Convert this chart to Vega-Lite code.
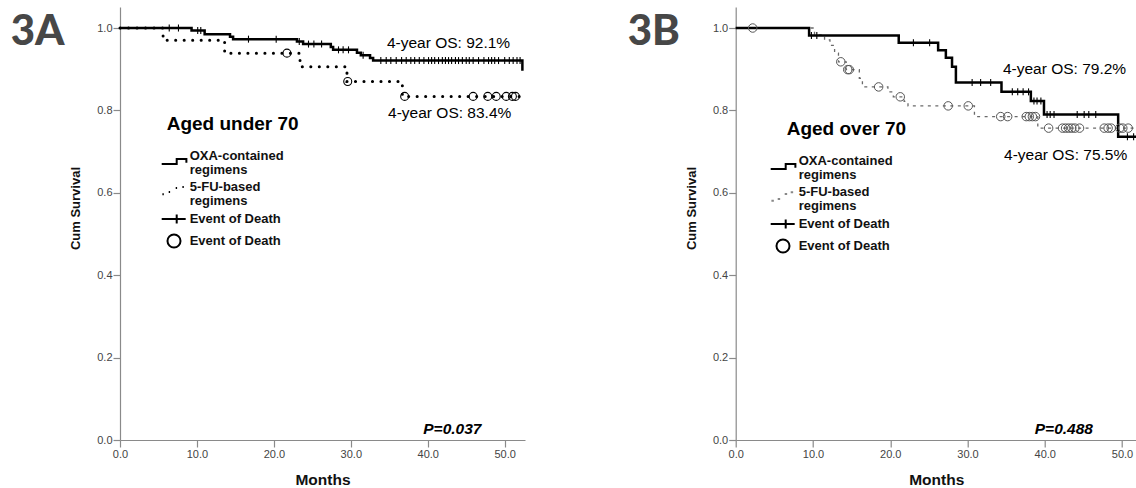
{
  "$schema": "https://vega.github.io/schema/vega-lite/v6.json",
  "background": "white",
  "padding": {"left": 10, "top": 7, "right": 0, "bottom": 0},
  "autosize": {"type": "pad"},
  "bounds": "flush",
  "spacing": 210.7,
  "config": {
    "view": {"stroke": null},
    "font": "Liberation Sans",
    "axis": {
      "domainColor": "#8a8a8a", "domainWidth": 1.2, "tickColor": "#8a8a8a", "tickSize": 7, "tickWidth": 1.2,
      "labelFont": "Liberation Sans", "labelFontSize": 11, "labelColor": "#444", "labelPadding": 1, "labelFlush": false,
      "titleFont": "Liberation Sans", "titleFontWeight": "bold", "titleColor": "#111", "grid": false
    },
    "style": {"guide-label": {"lineHeight": 14}}
  },
  "datasets": {
    "a_oxa": [
      {"month": 0, "surv": 1.0}, {"month": 9.3, "surv": 0.994}, {"month": 11.0, "surv": 0.985}, {"month": 14.3, "surv": 0.979},
      {"month": 14.7, "surv": 0.973}, {"month": 23.0, "surv": 0.967}, {"month": 23.8, "surv": 0.961}, {"month": 27.4, "surv": 0.954},
      {"month": 27.7, "surv": 0.947}, {"month": 30.8, "surv": 0.940}, {"month": 31.3, "surv": 0.934}, {"month": 32.5, "surv": 0.927},
      {"month": 32.9, "surv": 0.921}, {"month": 52.3, "surv": 0.896}
    ],
    "a_fu": [
      {"month": 0, "surv": 1.0}, {"month": 5.6, "surv": 0.970}, {"month": 13.6, "surv": 0.939}, {"month": 23.4, "surv": 0.906},
      {"month": 29.5, "surv": 0.870}, {"month": 36.7, "surv": 0.834}, {"month": 52.5, "surv": 0.834}
    ],
    "a_cens_oxa": [
      {"month": 6.4, "surv": 1.0}, {"month": 7.6, "surv": 1.0}, {"month": 10.1, "surv": 0.994}, {"month": 10.5, "surv": 0.994},
      {"month": 16.7, "surv": 0.973}, {"month": 20.3, "surv": 0.973}, {"month": 23.3, "surv": 0.967}, {"month": 24.5, "surv": 0.961},
      {"month": 25.2, "surv": 0.961}, {"month": 26.2, "surv": 0.961}, {"month": 28.4, "surv": 0.947}, {"month": 29.0, "surv": 0.947},
      {"month": 29.7, "surv": 0.947}, {"month": 31.6, "surv": 0.934},
      {"month": 33.9, "surv": 0.921}, {"month": 34.6, "surv": 0.921}, {"month": 35.2, "surv": 0.921}, {"month": 35.9, "surv": 0.921},
      {"month": 36.6, "surv": 0.921}, {"month": 37.2, "surv": 0.921}, {"month": 37.8, "surv": 0.921}, {"month": 38.3, "surv": 0.921},
      {"month": 38.9, "surv": 0.921}, {"month": 39.5, "surv": 0.921}, {"month": 40.1, "surv": 0.921}, {"month": 40.5, "surv": 0.921},
      {"month": 40.9, "surv": 0.921}, {"month": 41.4, "surv": 0.921}, {"month": 41.9, "surv": 0.921}, {"month": 42.3, "surv": 0.921},
      {"month": 42.7, "surv": 0.921}, {"month": 43.1, "surv": 0.921}, {"month": 43.6, "surv": 0.921}, {"month": 44.0, "surv": 0.921},
      {"month": 44.5, "surv": 0.921}, {"month": 45.0, "surv": 0.921}, {"month": 45.4, "surv": 0.921}, {"month": 45.9, "surv": 0.921},
      {"month": 46.6, "surv": 0.921}, {"month": 47.3, "surv": 0.921}, {"month": 47.9, "surv": 0.921}, {"month": 48.3, "surv": 0.921},
      {"month": 48.7, "surv": 0.921}, {"month": 49.2, "surv": 0.921}, {"month": 50.0, "surv": 0.921}, {"month": 50.6, "surv": 0.921},
      {"month": 51.1, "surv": 0.921}, {"month": 51.6, "surv": 0.921}, {"month": 52.0, "surv": 0.921}
    ],
    "a_cens_fu": [
      {"month": 21.7, "surv": 0.939}, {"month": 29.6, "surv": 0.870}, {"month": 37.0, "surv": 0.834}, {"month": 45.9, "surv": 0.834},
      {"month": 47.8, "surv": 0.834}, {"month": 48.9, "surv": 0.834}, {"month": 50.2, "surv": 0.834}, {"month": 51.0, "surv": 0.834},
      {"month": 51.4, "surv": 0.834}
    ],
    "a_text": [
      {"month": 42.7, "surv": 0.9636, "label": "4-year OS: 92.1%"},
      {"month": 42.85, "surv": 0.794, "label": "4-year OS: 83.4%"}
    ],
    "a_p": [{"month": 43.2, "surv": 0.027, "label": "P=0.037"}],
    "a_tag": [{"month": -14.2, "surv": 0.9587, "label": "3A"}],
    "b_oxa": [
      {"month": 0, "surv": 1.0}, {"month": 9.5, "surv": 0.982}, {"month": 21.1, "surv": 0.964}, {"month": 26.2, "surv": 0.946},
      {"month": 27.2, "surv": 0.928}, {"month": 28.0, "surv": 0.906}, {"month": 28.5, "surv": 0.868}, {"month": 34.4, "surv": 0.845},
      {"month": 38.2, "surv": 0.823}, {"month": 39.9, "surv": 0.790}, {"month": 49.5, "surv": 0.736}, {"month": 51.9, "surv": 0.736}
    ],
    "b_fu": [
      {"month": 0, "surv": 1.0}, {"month": 10.2, "surv": 0.983}, {"month": 11.5, "surv": 0.971}, {"month": 12.2, "surv": 0.958},
      {"month": 12.8, "surv": 0.939}, {"month": 13.3, "surv": 0.918}, {"month": 14.3, "surv": 0.899}, {"month": 16.0, "surv": 0.878},
      {"month": 16.4, "surv": 0.857}, {"month": 19.7, "surv": 0.845}, {"month": 20.4, "surv": 0.833}, {"month": 21.8, "surv": 0.822},
      {"month": 22.3, "surv": 0.811}, {"month": 30.9, "surv": 0.785}, {"month": 39.1, "surv": 0.757}, {"month": 51.9, "surv": 0.757}
    ],
    "b_cens_oxa": [
      {"month": 9.8, "surv": 0.982}, {"month": 10.5, "surv": 0.982}, {"month": 23.0, "surv": 0.964}, {"month": 25.1, "surv": 0.964},
      {"month": 30.6, "surv": 0.868}, {"month": 31.7, "surv": 0.868}, {"month": 33.0, "surv": 0.868}, {"month": 35.8, "surv": 0.845},
      {"month": 36.5, "surv": 0.845}, {"month": 37.2, "surv": 0.845}, {"month": 37.9, "surv": 0.845}, {"month": 38.6, "surv": 0.823},
      {"month": 39.0, "surv": 0.823}, {"month": 39.5, "surv": 0.823}, {"month": 40.3, "surv": 0.790}, {"month": 40.7, "surv": 0.790},
      {"month": 41.2, "surv": 0.790}, {"month": 44.2, "surv": 0.790}, {"month": 45.1, "surv": 0.790}, {"month": 45.7, "surv": 0.790},
      {"month": 46.6, "surv": 0.790}, {"month": 50.7, "surv": 0.736}, {"month": 51.5, "surv": 0.736}
    ],
    "b_cens_fu": [
      {"month": 2.2, "surv": 1.0}, {"month": 13.6, "surv": 0.918}, {"month": 14.5, "surv": 0.899}, {"month": 14.7, "surv": 0.899},
      {"month": 18.5, "surv": 0.857}, {"month": 21.3, "surv": 0.833}, {"month": 27.5, "surv": 0.811}, {"month": 30.1, "surv": 0.811},
      {"month": 34.3, "surv": 0.785}, {"month": 35.2, "surv": 0.785}, {"month": 37.6, "surv": 0.785}, {"month": 38.0, "surv": 0.785},
      {"month": 38.4, "surv": 0.785}, {"month": 38.8, "surv": 0.785}, {"month": 40.5, "surv": 0.757}, {"month": 42.3, "surv": 0.757},
      {"month": 42.7, "surv": 0.757}, {"month": 43.1, "surv": 0.757}, {"month": 43.5, "surv": 0.757}, {"month": 43.9, "surv": 0.757},
      {"month": 44.5, "surv": 0.757}, {"month": 47.7, "surv": 0.757}, {"month": 48.2, "surv": 0.757}, {"month": 48.6, "surv": 0.757},
      {"month": 49.7, "surv": 0.757}, {"month": 50.1, "surv": 0.757}, {"month": 50.8, "surv": 0.757}
    ],
    "b_text": [
      {"month": 42.56, "surv": 0.900, "label": "4-year OS: 79.2%"},
      {"month": 42.7, "surv": 0.692, "label": "4-year OS: 75.5%"}
    ],
    "b_p": [{"month": 42.47, "surv": 0.027, "label": "P=0.488"}],
    "b_tag": [{"month": -13.97, "surv": 0.9587, "label": "3B"}]
  },
  "resolve": {
    "scale": {"shape": "independent", "stroke": "independent"},
    "legend": {"shape": "independent", "stroke": "independent"}
  },
  "hconcat": [
    {
      "width": 405,
      "height": 433,
      "encoding": {
        "x": {"field": "month", "type": "quantitative", "scale": {"domain": [0, 52.64], "nice": false, "zero": false},
              "axis": {"values": [0, 10, 20, 30, 40, 50], "format": ".1f", "title": "Months", "titleFontSize": 15.5, "titlePadding": 13}},
        "y": {"field": "surv", "type": "quantitative", "scale": {"domain": [0, 1.051], "nice": false},
              "axis": {"values": [0, 0.2, 0.4, 0.6, 0.8, 1.0], "format": ".1f", "title": "Cum Survival", "titleFontSize": 13, "titlePadding": 14, "titleY": 201}}
      },
      "layer": [
        {"data": {"name": "a_fu"}, "mark": {"type": "line", "interpolate": "step-after", "stroke": "black", "strokeWidth": 3, "strokeDash": [0.1, 8.4], "strokeCap": "round"}},
        {"data": {"name": "a_oxa"}, "mark": {"type": "line", "interpolate": "step-after", "stroke": "black", "strokeWidth": 2.5}},
        {"data": {"name": "a_cens_oxa"}, "mark": {"type": "point", "shape": "M0,-1V1", "size": 49, "stroke": "black", "strokeWidth": 1.1, "filled": false, "opacity": 1}},
        {"data": {"name": "a_cens_fu"}, "mark": {"type": "point", "shape": "circle", "size": 64, "stroke": "black", "strokeWidth": 1.1, "filled": false, "opacity": 1}},
        {"data": {"name": "a_text"}, "mark": {"type": "text", "font": "Liberation Sans", "fontSize": 15.5, "align": "center", "baseline": "middle", "color": "black"},
         "encoding": {"text": {"field": "label"}}},
        {"data": {"name": "a_p"}, "mark": {"type": "text", "font": "Liberation Sans", "fontSize": 15.5, "fontStyle": "italic", "fontWeight": "bold", "align": "center", "baseline": "middle", "color": "black"},
         "encoding": {"text": {"field": "label"}}},
        {"data": {"name": "a_tag"}, "mark": {"type": "text", "font": "Lato", "fontSize": 42, "fontWeight": 900, "align": "left", "baseline": "alphabetic", "color": "#474747", "clip": false},
         "encoding": {"text": {"field": "label"}}},
        {"data": {"values": []}, "mark": {"type": "point", "filled": false, "opacity": 1},
         "encoding": {
           "x": {"value": 0}, "y": {"value": 0},
           "shape": {"field": "key", "type": "nominal",
             "scale": {"domain": ["OXA", "FU", "censOXA", "censFU"],
                       "range": ["M-1.857,1.143H0.286V0.429H1.67V0.97", "M-1.757,1.04h0.2M-0.857,0.714h0.2M0.143,0.143h0.2M1.1,0h0.2", "M-1.857,0H1.57M0.286,-0.64V0.64", "M0.83,0A0.93,0.93,0,1,1,-1.03,0A0.93,0.93,0,1,1,0.83,0Z"]},
             "legend": {"title": "Aged under 70", "orient": "none", "legendX": 46.7, "legendY": 108, "padding": 0,
               "titleFont": "Liberation Sans", "titleFontSize": 19, "titleFontWeight": "bold", "titleColor": "black", "titlePadding": 14, "titleLimit": 0,
               "labelFont": "Liberation Sans", "labelFontSize": 13, "labelFontWeight": "bold", "labelColor": "#111", "labelLimit": 0, "labelOffset": 7,
               "labelExpr": "datum.value == 'OXA' ? ['OXA-contained', 'regimens'] : datum.value == 'FU' ? ['5-FU-based', 'regimens'] : 'Event of Death'",
               "symbolSize": 196, "symbolStrokeWidth": 2, "symbolFillColor": "transparent", "symbolOffset": 0, "rowPadding": 2}},
           "stroke": {"field": "key", "type": "nominal",
             "scale": {"domain": ["OXA", "FU", "censOXA", "censFU"], "range": ["black", "black", "black", "black"]},
             "legend": {"title": "Aged under 70", "orient": "none", "legendX": 46.7, "legendY": 108, "padding": 0,
               "titleFont": "Liberation Sans", "titleFontSize": 19, "titleFontWeight": "bold", "titleColor": "black", "titlePadding": 14, "titleLimit": 0,
               "labelFont": "Liberation Sans", "labelFontSize": 13, "labelFontWeight": "bold", "labelColor": "#111", "labelLimit": 0, "labelOffset": 7,
               "labelExpr": "datum.value == 'OXA' ? ['OXA-contained', 'regimens'] : datum.value == 'FU' ? ['5-FU-based', 'regimens'] : 'Event of Death'",
               "symbolSize": 196, "symbolStrokeWidth": 2, "symbolFillColor": "transparent", "symbolOffset": 0, "rowPadding": 2}}
         }}
      ]
    },
    {
      "width": 401,
      "height": 433,
      "encoding": {
        "x": {"field": "month", "type": "quantitative", "scale": {"domain": [0, 51.9], "nice": false, "zero": false},
              "axis": {"values": [0, 10, 20, 30, 40, 50], "format": ".1f", "title": "Months", "titleFontSize": 15.5, "titlePadding": 13}},
        "y": {"field": "surv", "type": "quantitative", "scale": {"domain": [0, 1.051], "nice": false},
              "axis": {"values": [0, 0.2, 0.4, 0.6, 0.8, 1.0], "format": ".1f", "title": "Cum Survival", "titleFontSize": 13, "titlePadding": 14, "titleY": 201}}
      },
      "layer": [
        {"data": {"name": "b_fu"}, "mark": {"type": "line", "interpolate": "step-after", "stroke": "#6a6a6a", "strokeWidth": 1.3, "strokeDash": [3, 4.5]}},
        {"data": {"name": "b_oxa"}, "mark": {"type": "line", "interpolate": "step-after", "stroke": "black", "strokeWidth": 2.5}},
        {"data": {"name": "b_cens_oxa"}, "mark": {"type": "point", "shape": "M0,-1V1", "size": 49, "stroke": "black", "strokeWidth": 1.1, "filled": false, "opacity": 1}},
        {"data": {"name": "b_cens_fu"}, "mark": {"type": "point", "shape": "circle", "size": 72, "stroke": "#555", "strokeWidth": 1, "filled": false, "opacity": 1}},
        {"data": {"name": "b_text"}, "mark": {"type": "text", "font": "Liberation Sans", "fontSize": 15.5, "align": "center", "baseline": "middle", "color": "black"},
         "encoding": {"text": {"field": "label"}}},
        {"data": {"name": "b_p"}, "mark": {"type": "text", "font": "Liberation Sans", "fontSize": 15.5, "fontStyle": "italic", "fontWeight": "bold", "align": "center", "baseline": "middle", "color": "black"},
         "encoding": {"text": {"field": "label"}}},
        {"data": {"name": "b_tag"}, "mark": {"type": "text", "font": "Lato", "fontSize": 42, "fontWeight": 900, "align": "left", "baseline": "alphabetic", "color": "#474747", "clip": false},
         "encoding": {"text": {"field": "label"}}},
        {"data": {"values": []}, "mark": {"type": "point", "filled": false, "opacity": 1},
         "encoding": {
           "x": {"value": 0}, "y": {"value": 0},
           "shape": {"field": "key", "type": "nominal",
             "scale": {"domain": ["OXA", "FU", "censOXA", "censFU"],
                       "range": ["M-1.857,1.143H0.286V0.429H1.67V0.97", "M-1.757,1.24h0.35M-0.857,1.0h0.35M0.143,0.29h0.35M1.0,0.05h0.35", "M-1.857,0H1.57M0.286,-0.64V0.64", "M0.83,0A0.93,0.93,0,1,1,-1.03,0A0.93,0.93,0,1,1,0.83,0Z"]},
             "legend": {"title": "Aged over 70", "orient": "none", "legendX": 51, "legendY": 113, "padding": 0,
               "titleFont": "Liberation Sans", "titleFontSize": 19, "titleFontWeight": "bold", "titleColor": "black", "titlePadding": 14, "titleLimit": 0,
               "labelFont": "Liberation Sans", "labelFontSize": 13, "labelFontWeight": "bold", "labelColor": "#111", "labelLimit": 0, "labelOffset": 7,
               "labelExpr": "datum.value == 'OXA' ? ['OXA-contained', 'regimens'] : datum.value == 'FU' ? ['5-FU-based', 'regimens'] : 'Event of Death'",
               "symbolSize": 196, "symbolStrokeWidth": 2, "symbolFillColor": "transparent", "symbolOffset": -11, "rowPadding": 2}},
           "stroke": {"field": "key", "type": "nominal",
             "scale": {"domain": ["OXA", "FU", "censOXA", "censFU"], "range": ["black", "#888", "black", "black"]},
             "legend": {"title": "Aged over 70", "orient": "none", "legendX": 51, "legendY": 113, "padding": 0,
               "titleFont": "Liberation Sans", "titleFontSize": 19, "titleFontWeight": "bold", "titleColor": "black", "titlePadding": 14, "titleLimit": 0,
               "labelFont": "Liberation Sans", "labelFontSize": 13, "labelFontWeight": "bold", "labelColor": "#111", "labelLimit": 0, "labelOffset": 7,
               "labelExpr": "datum.value == 'OXA' ? ['OXA-contained', 'regimens'] : datum.value == 'FU' ? ['5-FU-based', 'regimens'] : 'Event of Death'",
               "symbolSize": 196, "symbolStrokeWidth": 2, "symbolFillColor": "transparent", "symbolOffset": -11, "rowPadding": 2}}
         }}
      ]
    }
  ]
}
